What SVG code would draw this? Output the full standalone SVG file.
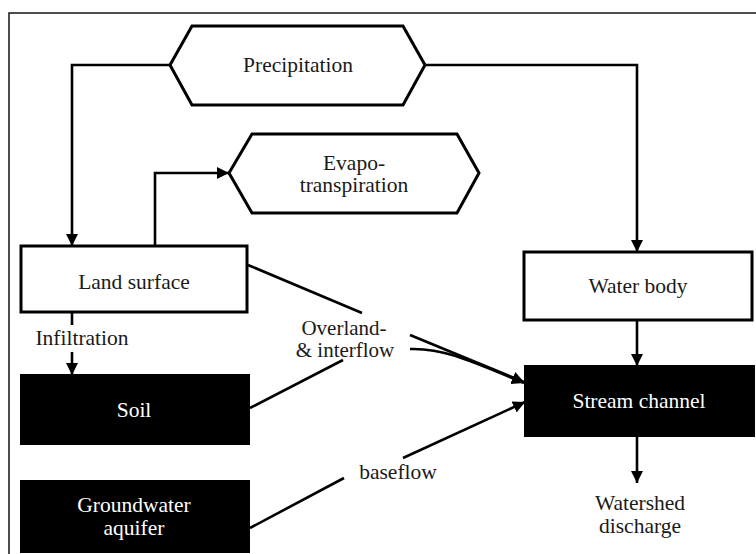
<svg xmlns="http://www.w3.org/2000/svg" width="756" height="554" viewBox="0 0 756 554">
<style>
.t{font-family:'Liberation Serif','DejaVu Serif',serif;font-size:21.5px;text-anchor:middle;fill:#1a1a1a}
.s{font-size:21px}
.w{fill:#fff}
.box{fill:#fff;stroke:#000;stroke-width:3}
.dark{fill:#000;stroke:#000;stroke-width:2}
.c{fill:none;stroke:#000;stroke-width:2.6}
</style>
<defs>
<marker id="ah" markerUnits="userSpaceOnUse" markerWidth="14" markerHeight="14" refX="12" refY="6" orient="auto">
<path d="M0,0 L12,6 L0,12 z" fill="#000"/>
</marker>
</defs>
<rect x="9" y="13" width="760" height="560" fill="none" stroke="#222" stroke-width="1.6"/>
<g id="precipitation">
<polygon class="box" points="170,65 192,26 403,26 425,65 403,105 192,105"/>
<text class="t" x="298" y="72">Precipitation</text>
</g>
<g id="evapotranspiration">
<polygon class="box" points="229,173 252,134 457,134 479,173 457,213 252,213"/>
<text class="t" x="354" y="170">Evapo-</text>
<text class="t" x="354" y="192">transpiration</text>
</g>
<g id="land-surface">
<rect class="box" x="21" y="246" width="226" height="66"/>
<text class="t" x="134" y="289">Land surface</text>
</g>
<g id="water-body">
<rect class="box" x="524" y="252" width="228" height="68"/>
<text class="t" x="638" y="293">Water body</text>
</g>
<g id="soil">
<rect class="dark" x="21" y="375" width="228" height="69"/>
<text class="t w" x="134" y="417">Soil</text>
</g>
<g id="groundwater-aquifer">
<rect class="dark" x="21" y="481" width="228" height="71"/>
<text class="t w" x="134" y="512">Groundwater</text>
<text class="t w" x="134" y="535">aquifer</text>
</g>
<g id="stream-channel">
<rect class="dark" x="525" y="366" width="229" height="70"/>
<text class="t w" x="639" y="408">Stream channel</text>
</g>
<g id="watershed-discharge">
<text class="t" x="640" y="510">Watershed</text>
<text class="t" x="640" y="533">discharge</text>
</g>
<g id="connectors">
<path class="c" d="M170,65 H72 V246" marker-end="url(#ah)"/>
<path class="c" d="M425,65 H637 V252" marker-end="url(#ah)"/>
<path class="c" d="M155,246 V173 H229" marker-end="url(#ah)"/>
<path class="c" d="M72,312 V325"/>
<path class="c" d="M72,352 V375" marker-end="url(#ah)"/>
<path class="c" d="M637,320 V366" marker-end="url(#ah)"/>
<path class="c" d="M637,436 V483" marker-end="url(#ah)"/>
<path class="c" d="M248,265 L362,313"/>
<path class="c" d="M410,335 L524,382" marker-end="url(#ah)"/>
<path class="c" d="M250,408 L343,360"/>
<path class="c" d="M410,349 C440,348 462,357 524,383" marker-end="url(#ah)"/>
<path class="c" d="M250,528 L344,478"/>
<path class="c" d="M403,458 L525,402" marker-end="url(#ah)"/>
<text class="t s" x="344" y="335">Overland-</text>
<text class="t s" x="345" y="357">&amp; interflow</text>
<text class="t" x="82" y="345">Infiltration</text>
<text class="t" x="398" y="479">baseflow</text>
</g>
</svg>
